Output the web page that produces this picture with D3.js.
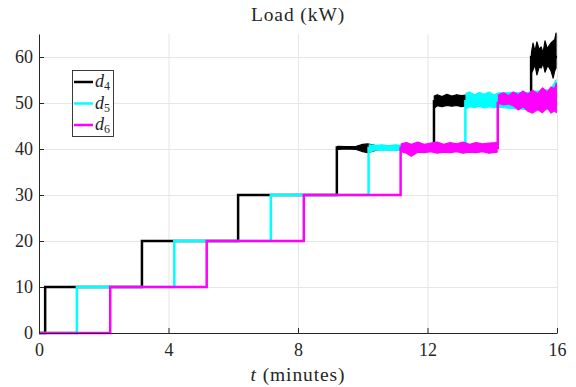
<!DOCTYPE html>
<html>
<head>
<meta charset="utf-8">
<script src="https://cdn.jsdelivr.net/npm/d3@7"></script>
<style>
  body { margin: 0; background: #fff; }
  text { font-family: "Liberation Serif", "DejaVu Serif", serif; fill: #262626; }
</style>
</head>
<body>
<div id="chart"></div>
<script>
// step schedules (minutes, kW)
const seriesNames = ['d4', 'd5', 'd6'];
const seriesColors = ['#000000', '#00ffff', '#ff00ff'];

const d4Times = [0, 0.19, 3.18, 6.15, 9.2, 12.2, 15.2, 16];
const d4Levels = [0, 10, 20, 30, 40.3, 50.4, 60, 60];
const d5Times = [0, 1.17, 4.18, 7.16, 10.18, 13.17, 16];
const d5Levels = [0, 10, 20, 30, 40.2, 50.4, 50.4];
const d6Times = [0, 2.2, 5.18, 8.18, 11.17, 14.17, 16];
const d6Levels = [0, 10, 20, 30, 40.2, 50, 50];

// noisy parts: [t, low, high]
const d4Noise = [
  [[9.22, 39.9, 40.6], [9.5, 40.0, 40.5], [9.8, 39.9, 40.6], [10.0, 39.4, 41.0], [10.15, 39.2, 41.1], [10.5, 39.9, 40.6], [11.2, 39.8, 40.7], [12.18, 39.8, 40.8]],
  [[12.21, 48.9, 51.5], [12.3, 49.4, 51.8], [12.45, 49.2, 51.4], [12.6, 49.5, 51.9], [12.75, 49.3, 51.5], [12.9, 49.5, 51.8], [13.05, 49.2, 51.6], [13.2, 49.4, 51.7], [14.0, 49.3, 51.7], [15.19, 49.3, 51.7]],
  [[15.21, 56.5, 60.9], [15.26, 57.2, 63.0], [15.32, 58.3, 61.2], [15.38, 56.1, 63.3], [15.45, 57.8, 61.6], [15.51, 57.6, 62.2], [15.57, 58.6, 60.9], [15.63, 56.7, 63.5], [15.7, 58.0, 61.8], [15.75, 57.8, 62.4], [15.82, 56.9, 63.1], [15.88, 55.4, 63.5], [15.93, 57.0, 63.8], [15.97, 57.6, 65.2]]
];
const d5Noise = [
  [[10.2, 39.3, 40.9], [10.4, 39.8, 40.8], [10.6, 39.7, 40.9], [10.8, 39.8, 40.7], [11.0, 39.7, 40.9], [11.2, 39.8, 40.8], [13.15, 39.8, 40.8]],
  [[13.19, 48.7, 52.1], [13.3, 49.2, 52.4], [13.45, 49.0, 51.8], [13.6, 49.3, 52.3], [13.75, 48.9, 51.9], [13.9, 49.2, 52.4], [14.05, 49.0, 51.8], [14.2, 49.1, 52.2], [14.6, 48.8, 52.3], [15.0, 48.6, 52.2], [15.4, 48.5, 52.6], [15.8, 48.7, 52.9], [15.97, 49.0, 55.0]]
];
const d6Noise = [
  [[11.19, 39.4, 41.1], [11.35, 39.1, 41.4], [11.5, 38.4, 41.0], [11.7, 39.3, 41.5], [11.9, 39.2, 41.0], [12.1, 39.4, 41.3], [12.3, 39.1, 41.5], [12.5, 39.3, 41.0], [12.7, 39.2, 41.4], [12.9, 39.4, 41.1], [13.1, 39.1, 41.5], [13.3, 39.3, 41.0], [13.5, 39.2, 41.4], [13.7, 39.4, 41.1], [13.9, 39.1, 41.3], [14.15, 39.3, 41.4]],
  [[14.19, 50.0, 51.8], [14.35, 49.6, 52.2], [14.5, 49.8, 51.6], [14.65, 49.4, 52.4], [14.8, 48.5, 51.8], [14.95, 49.2, 52.6], [15.1, 48.2, 51.9], [15.25, 47.8, 52.8], [15.4, 48.6, 52.0], [15.55, 47.9, 53.3], [15.7, 48.9, 52.4], [15.82, 47.8, 53.5], [15.92, 48.3, 53.1], [15.98, 47.9, 54.3]]
];

const xTicks = [0, 4, 8, 12, 16];
const yTicks = [0, 10, 20, 30, 40, 50, 60];
const legendSubs = ['4', '5', '6'];

const W = 576, H = 387;
const plotLeft = 39, plotRight = 557, plotTop = 34, plotBottom = 333;

const svg = d3.select('#chart').append('svg').attr('width', W).attr('height', H);

const x = d3.scaleLinear().domain([0, 16]).range([plotLeft, plotRight]);
const y = d3.scaleLinear().domain([0, 65]).range([plotBottom, plotTop]);

// grid
svg.append('g')
  .attr('transform', `translate(0,${plotBottom})`)
  .call(d3.axisBottom(x).tickValues(xTicks).tickSize(-(plotBottom - plotTop)).tickFormat(''))
  .call(g => g.select('.domain').remove())
  .call(g => g.selectAll('line').attr('stroke', '#e6e6e6'));
svg.append('g')
  .attr('transform', `translate(${plotLeft},0)`)
  .call(d3.axisLeft(y).tickValues(yTicks).tickSize(-(plotRight - plotLeft)).tickFormat(''))
  .call(g => g.select('.domain').remove())
  .call(g => g.selectAll('line').attr('stroke', '#e6e6e6'));

// series
const seriesTimes = [d4Times, d5Times, d6Times];
const seriesLevels = [d4Levels, d5Levels, d6Levels];
const seriesNoise = [d4Noise, d5Noise, d6Noise];

const stepLine = d3.line().x(d => x(d[0])).y(d => y(d[1])).curve(d3.curveStepAfter);
const band = d3.area().x(d => x(d[0])).y0(d => y(d[1])).y1(d => y(d[2]));

seriesNames.forEach((name, i) => {
  const g = svg.append('g').attr('class', 'series-' + name);
  const pts = seriesTimes[i].map((t, k) => [t, seriesLevels[i][k]]);
  g.append('path')
    .attr('d', stepLine(pts))
    .attr('fill', 'none')
    .attr('stroke', seriesColors[i])
    .attr('stroke-width', 2.5);
  seriesNoise[i].forEach(seg => {
    g.append('path')
      .attr('d', band(seg))
      .attr('fill', seriesColors[i])
      .attr('stroke', seriesColors[i])
      .attr('stroke-width', 1.2)
      .attr('stroke-linejoin', 'round');
  });
});

// axes (inward ticks, no box)
const xAxis = svg.append('g').attr('transform', `translate(0,${plotBottom})`)
  .call(d3.axisBottom(x).tickValues(xTicks).tickSize(-5).tickSizeOuter(0).tickPadding(10));
const yAxis = svg.append('g').attr('transform', `translate(${plotLeft},0)`)
  .call(d3.axisLeft(y).tickValues(yTicks).tickSize(-5).tickSizeOuter(0).tickPadding(10));
[xAxis, yAxis].forEach(a => {
  a.select('.domain').attr('stroke', '#262626');
  a.selectAll('line').attr('stroke', '#262626');
  a.selectAll('text').attr('font-size', 18).attr('font-family', '"Liberation Serif", serif').attr('fill', '#262626');
});
yAxis.selectAll('text').attr('x', -6);

// title and label
svg.append('text')
  .attr('x', (plotLeft + plotRight) / 2).attr('y', 21)
  .attr('text-anchor', 'middle').attr('font-size', 19.5).attr('letter-spacing', 0.9)
  .text('Load (kW)');

const xl = svg.append('text')
  .attr('x', (plotLeft + plotRight) / 2).attr('y', 381)
  .attr('text-anchor', 'middle').attr('font-size', 19.5).attr('letter-spacing', 0.9);
xl.append('tspan').attr('font-style', 'italic').text('t');
xl.append('tspan').text(' (minutes)');

// legend
const leg = svg.append('g');
leg.append('rect')
  .attr('x', 72.5).attr('y', 70.5).attr('width', 41).attr('height', 66)
  .attr('fill', '#fff').attr('stroke', '#262626').attr('stroke-width', 0.9);
seriesNames.forEach((name, i) => {
  const ly = 82 + i * 21.5;
  leg.append('line')
    .attr('x1', 74).attr('x2', 93).attr('y1', ly).attr('y2', ly)
    .attr('stroke', seriesColors[i]).attr('stroke-width', 2.5);
  const t = leg.append('text').attr('x', 95).attr('y', ly + 5).attr('font-size', 18);
  t.append('tspan').attr('font-style', 'italic').text('d');
  t.append('tspan').attr('font-size', 12).attr('dy', 3).text(legendSubs[i]);
});
</script>
</body>
</html>
